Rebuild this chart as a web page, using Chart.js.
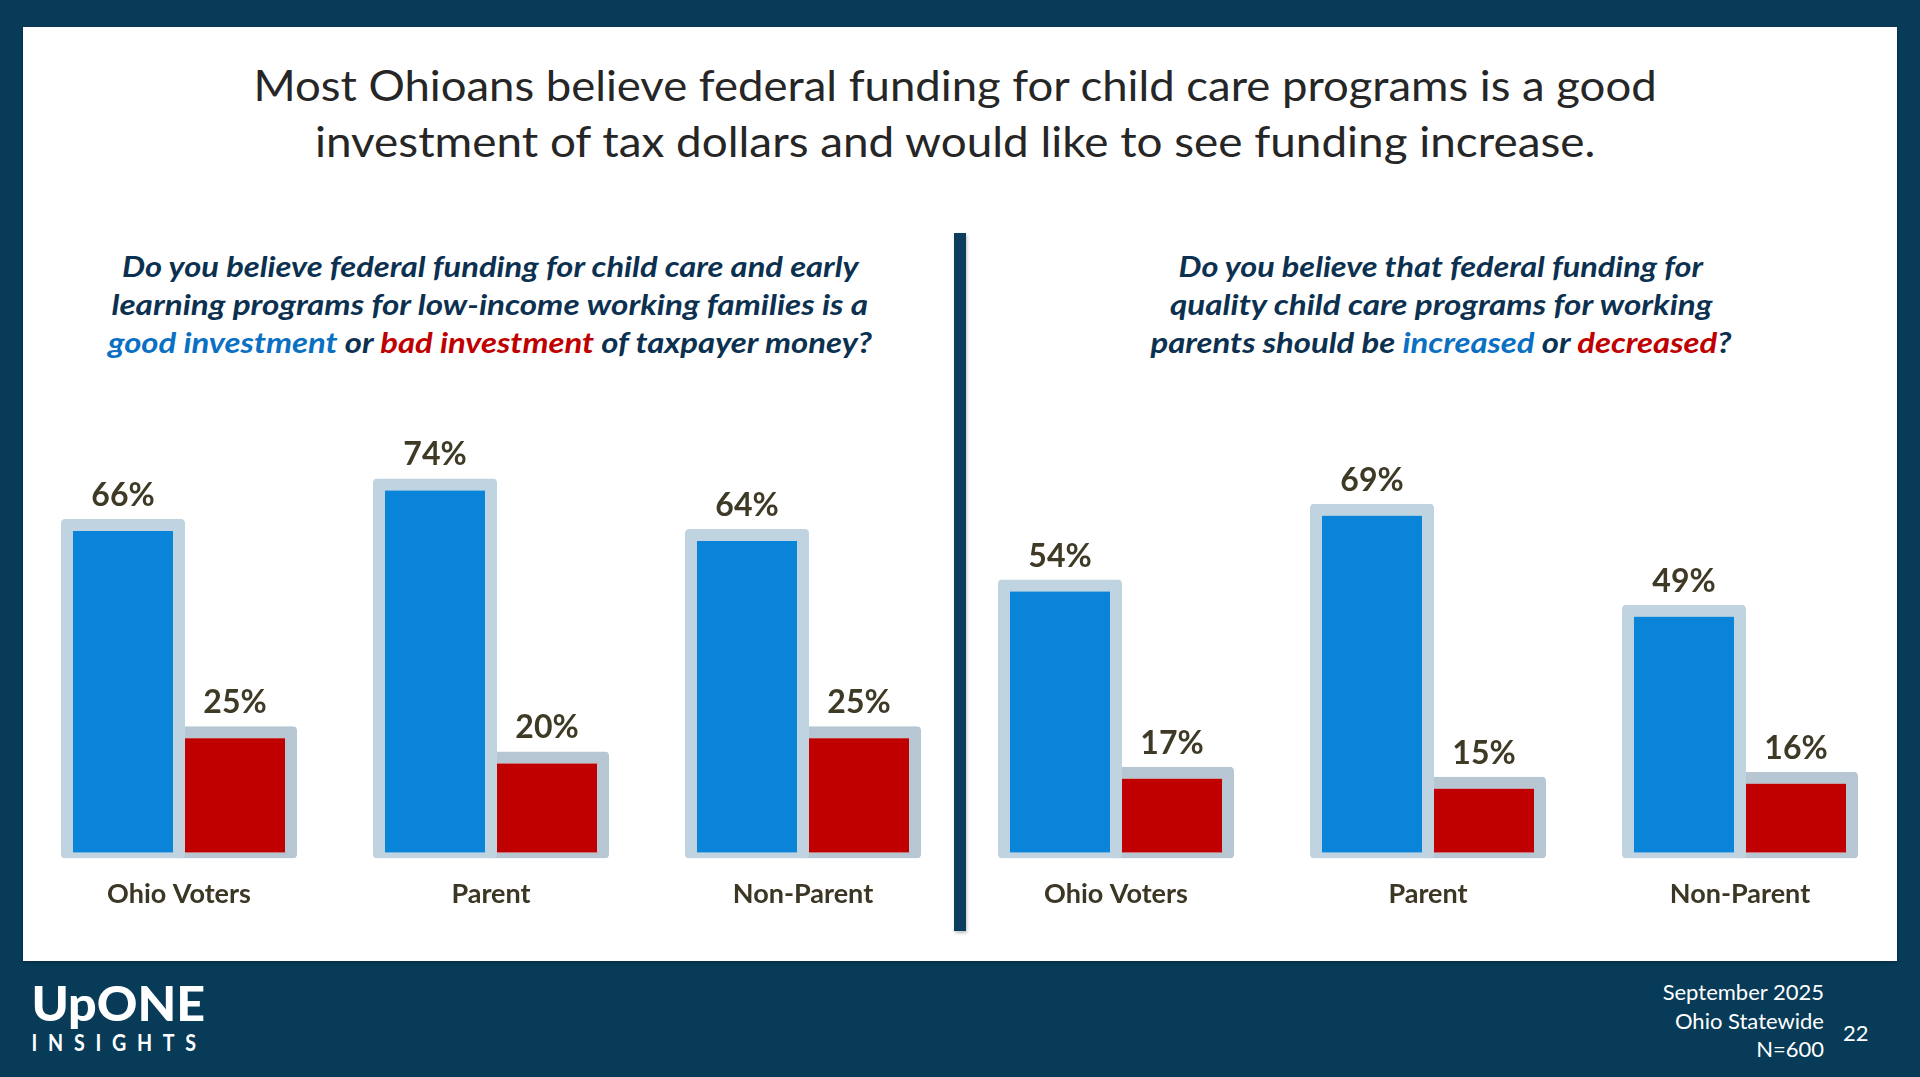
<!DOCTYPE html>
<html>
<head>
<meta charset="utf-8">
<script src="https://cdn.jsdelivr.net/npm/chart.js@4.4.1/dist/chart.umd.min.js"></script>
<style>
  html, body { margin: 0; padding: 0; }
  body { width: 1920px; height: 1077px; background: #073b58; position: relative; overflow: hidden; font-family: Lato, "Open Sans", sans-serif; }
  #panel { position: absolute; left: 23px; top: 27px; width: 1874px; height: 934px; background: #fff; box-shadow: 0 1px 3px rgba(0,0,0,0.35); }
  .ln { position: absolute; white-space: nowrap; transform-origin: 0 0; }
  .title { font-size: 42px; font-weight: 400; color: #262626; line-height: 1.2; }
  .q { font-size: 28px; font-weight: 700; font-style: italic; color: #0c3150; line-height: 1.2; }
  .blue { color: #0a70c4; }
  .red { color: #c00000; }
  #divider { position: absolute; left: 954px; top: 233px; width: 12px; height: 698px; background: #0a3d5e; box-shadow: 1px 2px 3px rgba(0,0,0,0.25); }
  canvas { position: absolute; }
  .foot { position: absolute; color: #fff; font-size: 22px; line-height: 1.2; white-space: nowrap; }
  .logo { font-size: 47px; font-weight: 900; color: #fff; line-height: 1.2; }
  .insights { font-size: 22px; font-weight: 700; color: #fff; line-height: 1.2; letter-spacing: 12px; }
</style>
</head>
<body>
<div id="panel"></div>

<div class="ln title" style="top:60px; left:955px" data-w="1403">Most Ohioans believe federal funding for child care programs is a good</div>
<div class="ln title" style="top:116px; left:955px" data-w="1280">investment of tax dollars and would like to see funding increase.</div>

<div class="ln q" style="top:250px; left:490px" data-w="736">Do you believe federal funding for child care and early</div>
<div class="ln q" style="top:288px; left:490px" data-w="757">learning programs for low-income working families is a</div>
<div class="ln q" style="top:326px; left:490px" data-w="764"><span class="blue">good investment</span> or <span class="red">bad investment</span> of taxpayer money?</div>

<div class="ln q" style="top:250px; left:1441px" data-w="525">Do you believe that federal funding for</div>
<div class="ln q" style="top:288px; left:1441px" data-w="542">quality child care programs for working</div>
<div class="ln q" style="top:326px; left:1441px" data-w="581">parents should be <span class="blue">increased</span> or <span class="red">decreased</span>?</div>

<div id="divider"></div>

<canvas id="leftChart" width="936" height="629" style="left:23px; top:300px;"></canvas>
<canvas id="rightChart" width="936" height="629" style="left:960px; top:300px;"></canvas>

<div class="ln logo" style="top:975px; left:118px" data-w="173">UpONE</div>
<div class="ln insights" style="top:1030px; left:119px" data-w="175">INSIGHTS</div>

<div class="foot" style="top:979px; right:96px; text-align:right;">September 2025</div>
<div class="foot" style="top:1008px; right:96px; text-align:right;">Ohio Statewide</div>
<div class="foot" style="top:1036px; right:96px; text-align:right;">N=600</div>
<div class="foot" style="top:1020px; left:1843px;">22</div>

<script>
const categories = ['Ohio Voters', 'Parent', 'Non-Parent'];
const goodInvestment = [66, 74, 64];
const badInvestment = [25, 20, 25];
const fundingIncreased = [54, 69, 49];
const fundingDecreased = [17, 15, 16];

const yMin = -1.19;
const yMax = 100;

// draws "66%" etc above every bar
const valueLabels = {
  id: 'valueLabels',
  afterDatasetsDraw(chart) {
    const ctx = chart.ctx;
    ctx.save();
    ctx.font = 'bold 32px Lato, "Open Sans", sans-serif';
    ctx.fillStyle = '#3f3a26';
    ctx.textAlign = 'center';
    ctx.textBaseline = 'alphabetic';
    chart.data.datasets.forEach((ds, i) => {
      chart.getDatasetMeta(i).data.forEach((bar, j) => {
        ctx.fillText(ds.data[j] + '%', bar.x, bar.y - 13);
      });
    });
    ctx.restore();
  }
};

function barSet(label, values, fill, edge) {
  return {
    label: label,
    data: values,
    base: yMin,
    backgroundColor: fill,
    borderColor: edge,
    borderWidth: { top: 12, left: 12, right: 12, bottom: 6 },
    borderSkipped: false,
    borderRadius: 4,
    categoryPercentage: 0.718,
    barPercentage: 1.107
  };
}

function makeChart(id, first, second, names) {
  return new Chart(document.getElementById(id), {
    type: 'bar',
    data: {
      labels: categories,
      datasets: [
        barSet(names[0], first, '#0a84d8', '#bfd3e0'),
        barSet(names[1], second, '#c00000', '#b6c7d3')
      ]
    },
    options: {
      responsive: false,
      animation: false,
      layout: { padding: { top: 47, left: 0, right: 0, bottom: 0 } },
      plugins: { legend: { display: false }, tooltip: { enabled: false } },
      scales: {
        x: {
          grid: { display: false, drawTicks: false },
          border: { display: false },
          ticks: {
            color: '#3c3725',
            font: { family: 'Lato', size: 27, weight: 'bold' },
            padding: 19,
            maxRotation: 0,
            autoSkip: false
          }
        },
        y: { display: false, min: yMin, max: yMax }
      }
    },
    plugins: [valueLabels]
  });
}

makeChart('leftChart', goodInvestment, badInvestment, ['Good investment', 'Bad investment']);
makeChart('rightChart', fundingIncreased, fundingDecreased, ['Increased', 'Decreased']);

// squeeze/stretch text lines so they fill the same width as the original slide
function fitLines() {
  document.querySelectorAll('.ln').forEach(el => {
    const target = parseFloat(el.dataset.w);
    const w = el.offsetWidth;
    const s = target / w;
    el.style.transform = `translateX(${-target / 2}px) scaleX(${s})`;
  });
}
document.fonts.ready.then(fitLines);
</script>
</body>
</html>
